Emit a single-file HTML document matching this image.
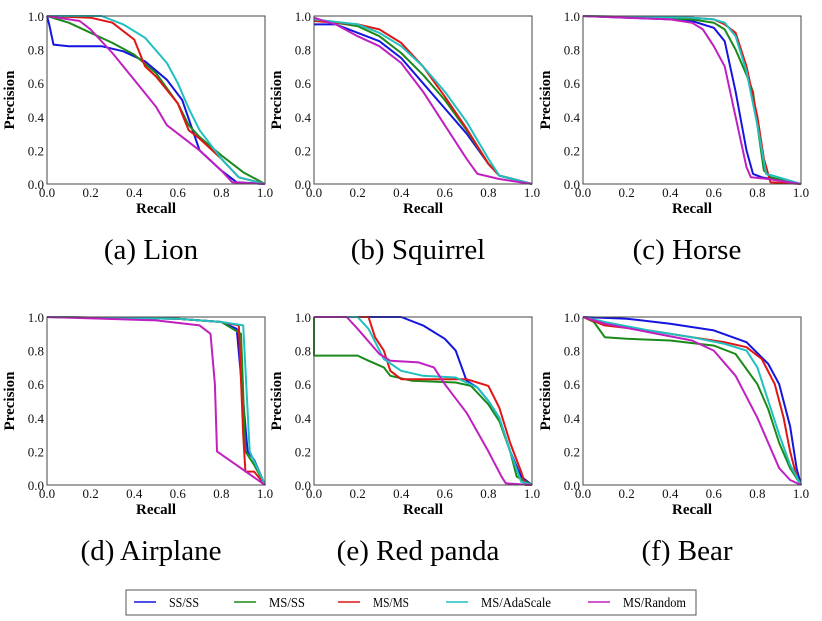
<!DOCTYPE html>
<html><head><meta charset="utf-8"><style>
body{margin:0;background:#fff;}
svg{display:block;font-family:"Liberation Serif",serif;}
</style></head><body>
<svg id="chart" width="822" height="621"></svg>
<script>
const seriesNames=["SS/SS","MS/SS","MS/MS","MS/AdaScale","MS/Random"];
const seriesColors=["#1515e0","#1a8a1a","#e01515","#20c0c0","#c020c0"];
const panelTitles=["(a) Lion","(b) Squirrel","(c) Horse","(d) Airplane","(e) Red panda","(f) Bear"];
const tickLabels=["0.0","0.2","0.4","0.6","0.8","1.0"];
const tickValues=[0,0.2,0.4,0.6,0.8,1];
// each curve: [recall, precision] pairs
const lionSS=[[0,1],[0.01,0.95],[0.03,0.83],[0.1,0.82],[0.25,0.82],[0.35,0.79],[0.45,0.73],[0.55,0.62],[0.62,0.5],[0.66,0.35],[0.7,0.2],[0.8,0.08],[0.87,0.01],[1,0]];
const lionMSSS=[[0,1],[0.1,0.96],[0.2,0.9],[0.3,0.84],[0.4,0.77],[0.5,0.66],[0.6,0.48],[0.65,0.35],[0.7,0.28],[0.8,0.17],[0.9,0.07],[1,0]];
const lionMSMS=[[0,1],[0.2,0.99],[0.3,0.96],[0.4,0.86],[0.45,0.7],[0.5,0.64],[0.6,0.48],[0.65,0.32],[0.7,0.27],[0.8,0.15],[0.88,0.04],[1,0]];
const lionAda=[[0,1],[0.25,1],[0.35,0.95],[0.45,0.87],[0.55,0.72],[0.6,0.6],[0.65,0.45],[0.7,0.32],[0.8,0.15],[0.88,0.04],[1,0]];
const lionRand=[[0,1],[0.15,0.97],[0.2,0.92],[0.3,0.78],[0.4,0.62],[0.5,0.46],[0.55,0.35],[0.6,0.3],[0.7,0.2],[0.8,0.08],[0.85,0.01],[1,0]];
const squirrelSS=[[0,0.95],[0.1,0.95],[0.2,0.9],[0.3,0.85],[0.4,0.75],[0.5,0.6],[0.6,0.45],[0.7,0.3],[0.8,0.12],[0.85,0.05],[1,0]];
const squirrelMSSS=[[0,0.98],[0.2,0.94],[0.3,0.88],[0.4,0.78],[0.5,0.65],[0.6,0.5],[0.7,0.32],[0.8,0.12],[0.85,0.05],[1,0]];
const squirrelMSMS=[[0,0.97],[0.2,0.95],[0.3,0.92],[0.4,0.84],[0.5,0.7],[0.6,0.52],[0.7,0.33],[0.8,0.12],[0.85,0.05],[1,0]];
const squirrelAda=[[0,0.98],[0.2,0.95],[0.3,0.9],[0.4,0.82],[0.5,0.7],[0.6,0.55],[0.7,0.37],[0.8,0.15],[0.85,0.05],[1,0]];
const squirrelRand=[[0,0.99],[0.1,0.95],[0.2,0.88],[0.3,0.82],[0.4,0.72],[0.5,0.55],[0.6,0.35],[0.7,0.15],[0.75,0.06],[0.85,0.03],[1,0]];
const horseSS=[[0,1],[0.4,0.98],[0.5,0.97],[0.6,0.93],[0.65,0.85],[0.7,0.55],[0.75,0.2],[0.78,0.06],[0.82,0.04],[1,0]];
const horseMSSS=[[0,1],[0.5,0.98],[0.6,0.96],[0.65,0.92],[0.7,0.8],[0.75,0.65],[0.78,0.55],[0.8,0.35],[0.83,0.08],[0.86,0.04],[1,0]];
const horseMSMS=[[0,1],[0.5,0.99],[0.6,0.98],[0.65,0.95],[0.7,0.9],[0.75,0.7],[0.8,0.4],[0.83,0.15],[0.86,0.01],[1,0]];
const horseAda=[[0,1],[0.5,0.99],[0.6,0.98],[0.65,0.96],[0.7,0.88],[0.75,0.67],[0.8,0.35],[0.84,0.06],[0.87,0.05],[1,0]];
const horseRand=[[0,1],[0.4,0.98],[0.5,0.96],[0.55,0.92],[0.6,0.82],[0.65,0.7],[0.7,0.4],[0.75,0.1],[0.77,0.04],[0.85,0.03],[1,0]];
const airplaneSS=[[0,1],[0.6,0.99],[0.8,0.97],[0.87,0.93],[0.9,0.5],[0.92,0.2],[0.95,0.15],[1,0]];
const airplaneMSSS=[[0,1],[0.6,0.99],[0.8,0.97],[0.89,0.9],[0.91,0.2],[0.95,0.12],[1,0]];
const airplaneMSMS=[[0,1],[0.6,0.99],[0.8,0.97],[0.88,0.95],[0.9,0.3],[0.91,0.08],[0.95,0.08],[1,0]];
const airplaneAda=[[0,1],[0.6,0.99],[0.8,0.97],[0.9,0.95],[0.93,0.2],[1,0]];
const airplaneRand=[[0,1],[0.5,0.98],[0.7,0.95],[0.75,0.9],[0.77,0.6],[0.78,0.2],[1,0]];
const pandaSS=[[0,1],[0.4,1],[0.5,0.95],[0.6,0.87],[0.65,0.8],[0.7,0.62],[0.75,0.58],[0.8,0.5],[0.85,0.4],[0.9,0.2],[0.95,0.05],[1,0]];
const pandaMSSS=[[0,1],[0,0.77],[0.2,0.77],[0.25,0.74],[0.32,0.7],[0.35,0.65],[0.45,0.62],[0.65,0.61],[0.72,0.59],[0.8,0.48],[0.85,0.38],[0.9,0.2],[0.93,0.05],[1,0]];
const pandaMSMS=[[0,1],[0.25,1],[0.28,0.88],[0.32,0.8],[0.35,0.68],[0.4,0.63],[0.7,0.63],[0.8,0.59],[0.85,0.46],[0.9,0.25],[0.95,0.08],[0.97,0],[1,0]];
const pandaAda=[[0,1],[0.2,1],[0.25,0.93],[0.32,0.75],[0.4,0.68],[0.5,0.65],[0.65,0.64],[0.75,0.58],[0.8,0.5],[0.85,0.4],[0.9,0.2],[0.95,0.02],[1,0]];
const pandaRand=[[0,1],[0.15,1],[0.2,0.93],[0.3,0.78],[0.35,0.74],[0.48,0.73],[0.55,0.7],[0.6,0.6],[0.7,0.43],[0.8,0.2],[0.86,0.05],[0.88,0.01],[1,0]];
const bearSS=[[0,1],[0.2,0.99],[0.4,0.96],[0.6,0.92],[0.75,0.85],[0.85,0.72],[0.9,0.6],[0.95,0.35],[0.98,0.1],[1,0]];
const bearMSSS=[[0,1],[0.05,0.97],[0.1,0.88],[0.2,0.87],[0.4,0.86],[0.6,0.83],[0.7,0.78],[0.8,0.6],[0.85,0.45],[0.9,0.25],[0.95,0.1],[1,0]];
const bearMSMS=[[0,1],[0.1,0.95],[0.3,0.92],[0.5,0.88],[0.65,0.85],[0.75,0.82],[0.82,0.75],[0.88,0.6],[0.92,0.4],[0.95,0.2],[0.98,0.05],[1,0]];
const bearAda=[[0,1],[0.1,0.97],[0.3,0.92],[0.5,0.88],[0.65,0.84],[0.75,0.8],[0.8,0.7],[0.85,0.5],[0.9,0.3],[0.95,0.12],[1,0]];
const bearRand=[[0,1],[0.1,0.96],[0.3,0.91],[0.5,0.86],[0.6,0.8],[0.7,0.65],[0.8,0.4],[0.85,0.25],[0.9,0.1],[0.95,0.03],[1,0]];
const panelCurves=[[lionSS,lionMSSS,lionMSMS,lionAda,lionRand],[squirrelSS,squirrelMSSS,squirrelMSMS,squirrelAda,squirrelRand],[horseSS,horseMSSS,horseMSMS,horseAda,horseRand],[airplaneSS,airplaneMSSS,airplaneMSMS,airplaneAda,airplaneRand],[pandaSS,pandaMSSS,pandaMSMS,pandaAda,pandaRand],[bearSS,bearMSSS,bearMSMS,bearAda,bearRand]];

const NS="http://www.w3.org/2000/svg";
const svg=document.getElementById('chart');
function mk(tag,attrs,parent){const e=document.createElementNS(NS,tag);for(const k in attrs)e.setAttribute(k,attrs[k]);(parent||svg).appendChild(e);return e;}
const lefts=[47,314,583];const tops=[16,317];const W=218,H=168;
panelTitles.forEach((title,i)=>{
  const x0=lefts[i%3],y0=tops[Math.floor(i/3)];
  const g=mk('g',{});
  
  
  const sx=v=>x0+v*W, sy=v=>y0+H-v*H;
  tickValues.forEach((t,k)=>{
    const xt=mk('text',{x:sx(t),y:y0+H+13,'text-anchor':'middle','font-size':13,fill:'#111'},g);
    xt.textContent=tickLabels[k];
    
    
    const yt=mk('text',{x:x0-3,y:sy(t)+5,'text-anchor':'end','font-size':13,fill:'#111'},g);
    yt.textContent=tickLabels[k];
    
    
  });
  panelCurves[i].forEach((pts,s)=>{
    const p=mk('polyline',{points:pts.map(q=>sx(q[0]).toFixed(1)+','+sy(q[1]).toFixed(1)).join(' '),fill:'none',stroke:seriesColors[s],'stroke-width':2,'stroke-linejoin':'round'},g);
    
    
  });
  const fr=mk('rect',{x:x0,y:y0,width:W,height:H,fill:'none',stroke:'#444','stroke-width':1},g);
  
  
  const xl=mk('text',{x:x0+W/2,y:y0+H+29,'text-anchor':'middle','font-size':15,'font-weight':'bold'},g);
  xl.textContent='Recall';
  
  
  const yl=mk('text',{x:0,y:0,'text-anchor':'middle','font-size':15,'font-weight':'bold',transform:`translate(${x0-33},${y0+H/2}) rotate(-90)`},g);
  yl.textContent='Precision';
  
  
  const ct=mk('text',{x:x0+W/2-5,y:y0+H+75,'text-anchor':'middle','font-size':29},g);
  ct.textContent=title;
  
  
});
const lg=mk('g',{});


mk('rect',{x:126,y:590,width:570,height:25,fill:'#fff',stroke:'#555','stroke-width':1},lg);
const lx=[134,234,338,446,588];
seriesNames.forEach((n,s)=>{
  const e=mk('g',{},lg);
  
  
  mk('line',{x1:lx[s],y1:602,x2:lx[s]+22,y2:602,stroke:seriesColors[s],'stroke-width':1.5},e);
  const t=mk('text',{x:lx[s]+35,y:607,'font-size':13.5,textLength:n.length>6?(n==='MS/AdaScale'?70:63):(n==='SS/SS'?30:36),lengthAdjust:'spacingAndGlyphs'},e);
  t.textContent=n;
});
</script>
</body></html>
